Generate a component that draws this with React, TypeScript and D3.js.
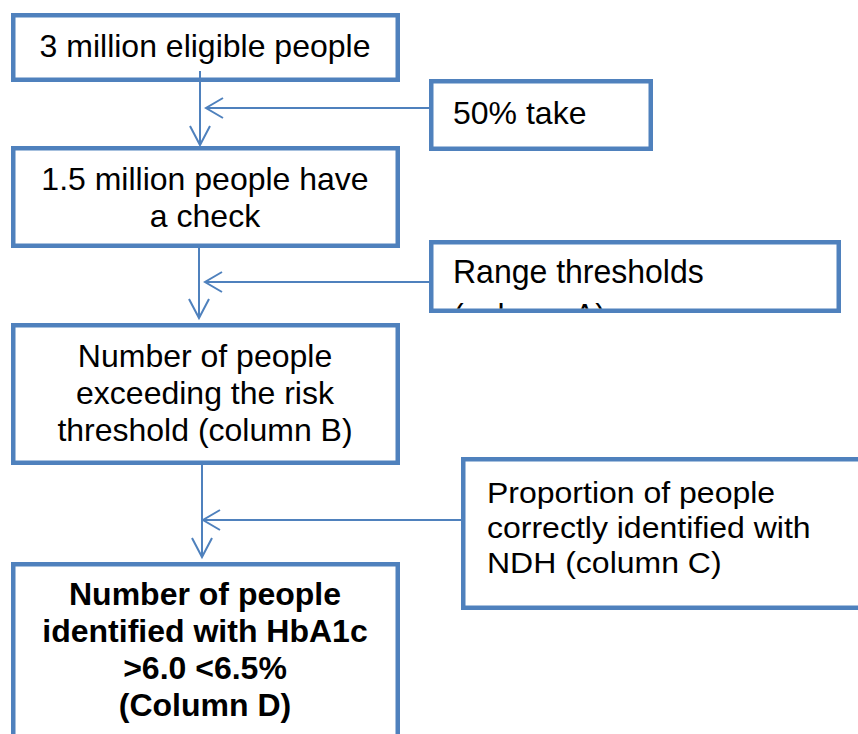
import React from 'react';
import * as d3 from 'd3';

// Labels of the flow, top to bottom
const mainSteps = [
  ['3 million eligible people'],
  ['1.5 million people have', 'a check'],
  ['Number of people', 'exceeding the risk', 'threshold (column B)'],
  ['Number of people', 'identified with HbA1c', '>6.0 <6.5%', '(Column D)'],
];
const sideSteps = [
  ['50% take'],
  ['Range thresholds', '(column A)'],
  ['Proportion of people', 'correctly identified with', 'NDH (column C)'],
];

const BLUE = '#4F81BD';
const FONT = '"Liberation Sans", Arial, sans-serif';
const W = 858;
const H = 734;

// box layout (outer edges), stroke drawn inside
const mainBoxes = [
  { x0: 11, x1: 400, y0: 13, y1: 82, base: 57 },
  { x0: 11, x1: 400, y0: 146, y1: 248, base: 190 },
  { x0: 11, x1: 400, y0: 323, y1: 465, base: 367 },
  { x0: 11, x1: 400, y0: 562, y1: 800, base: 605 },
];
const sideBoxes = [
  { x0: 429, x1: 653, y0: 79, y1: 151, base: 124, lh: 37, sy: 1 },
  { x0: 429, x1: 841, y0: 240, y1: 313, base: 283, lh: 44, sy: 1.02 },
  { x0: 461, x1: 920, y0: 457, y1: 610, base: 503, lh: 35, sy: 0.94 },
];
// connectors: vertical line down the main column, side arrow coming in from the left edge of side box
const links = [
  { x: 200, y0: 71, y1: 145, hy: 108, hx: 206 },
  { x: 199, y0: 248, y1: 318, hy: 282, hx: 205 },
  { x: 202, y0: 465, y1: 557, hy: 520, hx: 203 },
];

const SW = 4.5;
const line = d3.line<[number, number]>();

const Box = ({ b }: { b: { x0: number; x1: number; y0: number; y1: number } }) => (
  <rect
    x={b.x0 + SW / 2}
    y={b.y0 + SW / 2}
    width={b.x1 - b.x0 - SW}
    height={b.y1 - b.y0 - SW}
    fill="#fff"
    stroke={BLUE}
    strokeWidth={SW}
  />
);

export default function App() {
  return (
    <svg
      width={W}
      height={H}
      style={{ position: 'absolute', left: 0, top: 0, background: '#fff' }}
      fontFamily={FONT}
    >
      <defs>
        {sideBoxes.map((b, i) => (
          <clipPath id={`clip${i}`} key={i}>
            <rect x={b.x0 + SW} y={b.y0 + SW} width={b.x1 - b.x0 - 2 * SW} height={b.y1 - b.y0 - 2 * SW} />
          </clipPath>
        ))}
      </defs>

      {mainBoxes.map((b, i) => (
        <g key={`m${i}`}>
          <Box b={b} />
          {mainSteps[i].map((t, j) => (
            <text
              key={j}
              x={205}
              y={b.base + j * 37}
              textAnchor="middle"
              fontSize={32}
              fontWeight={i === 3 ? 'bold' : 'normal'}
              fill="#000"
            >
              {t}
            </text>
          ))}
        </g>
      ))}

      {sideBoxes.map((b, i) => (
        <g key={`s${i}`}>
          <Box b={b} />
          <g clipPath={`url(#clip${i})`}>
            {sideSteps[i].map((t, j) => (
              <text
                key={j}
                transform={`translate(${b.x0 + (i === 2 ? 26 : 24)},${b.base + j * b.lh}) scale(1,${b.sy})`}
                fontSize={32}
                fill="#000"
              >
                {t}
              </text>
            ))}
          </g>
        </g>
      ))}

      {links.map((l, i) => {
        const side = sideBoxes[i];
        return (
          <g key={`l${i}`} stroke={BLUE} strokeWidth={2} fill="none">
            <path d={line([[l.x, l.y0], [l.x, l.y1]]) ?? ''} />
            <path d={line([[l.x - 10, l.y1 - 19], [l.x, l.y1], [l.x + 10, l.y1 - 19]]) ?? ''} />
            <path d={line([[side.x0, l.hy], [l.hx, l.hy]]) ?? ''} />
            <path d={line([[l.hx + 17, l.hy - 10], [l.hx, l.hy], [l.hx + 17, l.hy + 10]]) ?? ''} />
          </g>
        );
      })}
    </svg>
  );
}
